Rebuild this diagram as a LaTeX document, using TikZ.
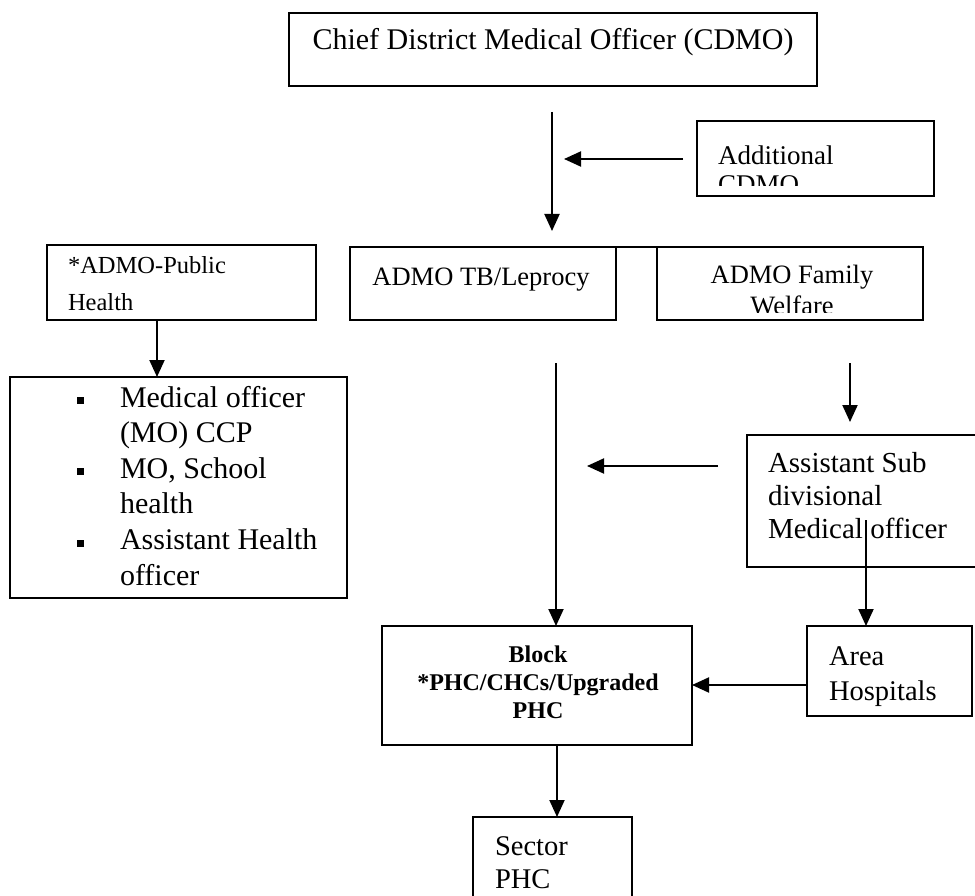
\documentclass[tikz,border=0pt]{standalone}
\usepackage{fontspec}
\setmainfont{Liberation Serif}
\usetikzlibrary{arrows.meta}
\begin{document}
\begin{tikzpicture}[x=1pt,y=-1pt,
  box/.style={draw, line width=2pt, inner sep=0pt, outer sep=0pt, anchor=north west},
  arr/.style={line width=2pt, -{Triangle[length=17pt,width=15pt]}},
  % multi-line labels are placed by the baseline of their last line
  lbl/.style={inner sep=0pt, outer sep=0pt, anchor=base west, align=left},
  clbl/.style={inner sep=0pt, outer sep=0pt, anchor=base, align=center},
  bul/.style={fill, inner sep=0pt, minimum size=7pt},
]
\useasboundingbox (0,0) rectangle (975,896);

% boxes
\node[box, minimum width=528pt, minimum height=73pt] (cdmo) at (289,13) {};
\node[box, minimum width=237pt, minimum height=75pt] (addl) at (697,121) {};
\node[box, minimum width=269pt, minimum height=75pt] (ph) at (47,245) {};
\node[box, minimum width=337pt, minimum height=221pt] (staff) at (10,377) {};
\node[box, minimum width=266pt, minimum height=73pt] (tb) at (350,247) {};
\node[box, minimum width=266pt, minimum height=73pt] (fw) at (657,247) {};
\node[box, minimum width=260pt, minimum height=132pt] (asmo) at (747,435) {};
\node[box, minimum width=310pt, minimum height=119pt] (block) at (382,626) {};
\node[box, minimum width=165pt, minimum height=90pt] (area) at (807,626) {};
\node[box, minimum width=159pt, minimum height=100pt] (sector) at (473,817) {};

% joining stroke along the top of the two ADMO boxes
\draw[line width=2pt] (tb.north east) -- (fw.north west);

% labels
\node[clbl, font=\fontsize{30}{34}\selectfont] (tcdmo) at (553,50) {Chief District Medical Officer (CDMO)};
\begin{scope}
  \clip (699,123) rectangle (932,186);
  \node[lbl, font=\fontsize{27}{29}\selectfont] (taddl) at (718,194) {Additional\\CDMO};
\end{scope}
\node[lbl, font=\fontsize{24.5}{37}\selectfont] (tph) at (68,310) {*ADMO-Public\\Health};
\node[lbl, font=\fontsize{30}{35.6}\selectfont] (tstaff) at (120,585)
  {Medical officer\\(MO) CCP\\MO, School\\health\\Assistant Health\\officer};
\node[bul] (b1) at (80,400) {};
\node[bul] (b2) at (80,471) {};
\node[bul] (b3) at (80,543) {};
\node[clbl, font=\fontsize{26.5}{31}\selectfont] (ttb) at (481,285) {ADMO TB/Leprocy};
\begin{scope}
  \clip (659,249) rectangle (921,312);
  \node[clbl, font=\fontsize{26.5}{31}\selectfont] (tfw) at (792,314) {ADMO Family\\Welfare};
\end{scope}
\node[lbl, font=\fontsize{29}{33}\selectfont] (tasmo) at (768,538) {Assistant Sub\\divisional\\Medical officer};
\node[clbl, font=\bfseries\fontsize{24}{28}\selectfont] (tblock) at (538,718) {Block\\*PHC/CHCs/Upgraded\\PHC};
\node[lbl, font=\fontsize{28.5}{35}\selectfont] (tarea) at (829,700) {Area\\Hospitals};
\node[lbl, font=\fontsize{28.5}{33}\selectfont] (tsector) at (495,888) {Sector\\PHC};

% connector end points
\coordinate (c1s) at (552,112);
\coordinate (c1e) at (552,231);
\coordinate (c2s) at (683,159);
\coordinate (c2e) at (564,159);
\coordinate (c3) at (157,0);
\coordinate (c4s) at (556,363);
\coordinate (c5s) at (850,363);
\coordinate (c5e) at (850,422);
\coordinate (c6s) at (718,466);
\coordinate (c6e) at (587,466);
\coordinate (c7s) at (866,520);
\coordinate (c8) at (0,685);
\coordinate (c9) at (557,0);

% connectors
\draw[arr] (c1s) -- (c1e);
\draw[arr] (c2s) -- (c2e);
\draw[arr] (c3 |- ph.south) -- (c3 |- staff.north);
\draw[arr] (c4s) -- (c4s |- block.north);
\draw[arr] (c5s) -- (c5e);
\draw[arr] (c6s) -- (c6e);
\draw[arr] (c7s) -- (c7s |- area.north);
\draw[arr] (c8 -| area.west) -- (c8 -| block.east);
\draw[arr] (c9 |- block.south) -- (c9 |- sector.north);
\end{tikzpicture}
\end{document}
